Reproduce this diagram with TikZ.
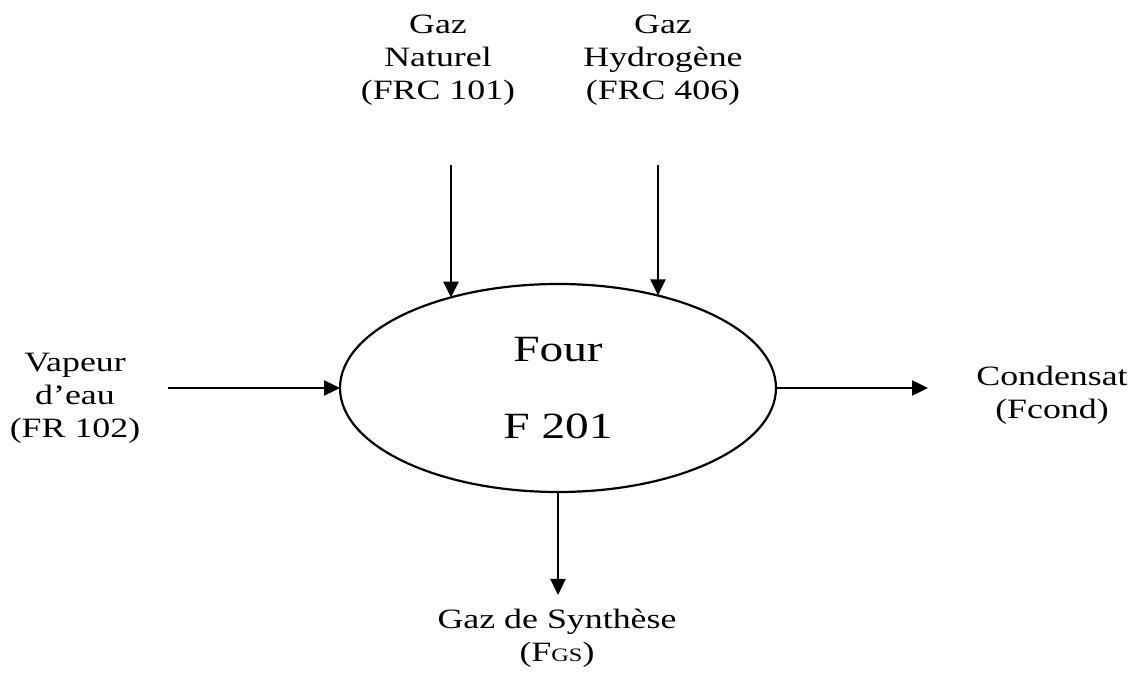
\documentclass[tikz,border=0pt]{standalone}
\usepackage{fontspec}
\setmainfont{Liberation Serif}[FakeStretch=1.28]
\usetikzlibrary{positioning,arrows.meta,shapes.geometric}

\begin{document}
\begin{tikzpicture}[x=1pt,y=1pt,
    flow/.style={line width=2.4pt,-{Triangle[length=16pt,width=15pt]}},
    stream/.style={align=center,inner sep=0pt,font=\fontsize{28}{33}\selectfont}]
 	\useasboundingbox (0,0) rectangle (1136,675);

 	% Furnace
 	\node[ellipse,draw,line width=2.2pt,minimum width=436pt,minimum height=208pt,
 	      inner sep=0pt,outer sep=0pt,align=center,
 	      font=\fontsize{37}{77}\selectfont] (four) at (558,287) {Four\\F 201};

 	% Streams
 	\node[stream] (naturel) at (438,615) {Gaz\\Naturel\\(FRC 101)};
 	\node[stream] (hydrogene) at (663,615) {Gaz\\Hydrogène\\(FRC 406)};
 	\node[stream] (vapeur) at (75,277) {Vapeur\\d’eau\\(FR 102)};
 	\node[stream] (condensat) at (1052,280) {Condensat\\(Fcond)};
 	\node[stream] (synthese) at (557,37) {Gaz de Synthèse\\(F{\fontsize{19}{19}\selectfont GS})};

 	% Free ends of the lines
 	\coordinate (naturel-in) at (451,510);
 	\coordinate (hydrogene-in) at (658,510);
 	\coordinate (vapeur-in) at (168,287);
 	\coordinate (condensat-out) at (928,287);
 	\coordinate (synthese-out) at (558,80);

 	% Flows
 	\draw[flow] (naturel-in) -- (naturel-in |- four.140);
 	\draw[flow] (hydrogene-in) -- (hydrogene-in |- four.43);
 	\draw[flow] (vapeur-in) -- (four.west);
 	\draw[flow] (four.east) -- (condensat-out);
 	\draw[flow] (four.south) -- (synthese-out);
\end{tikzpicture}
\end{document}
